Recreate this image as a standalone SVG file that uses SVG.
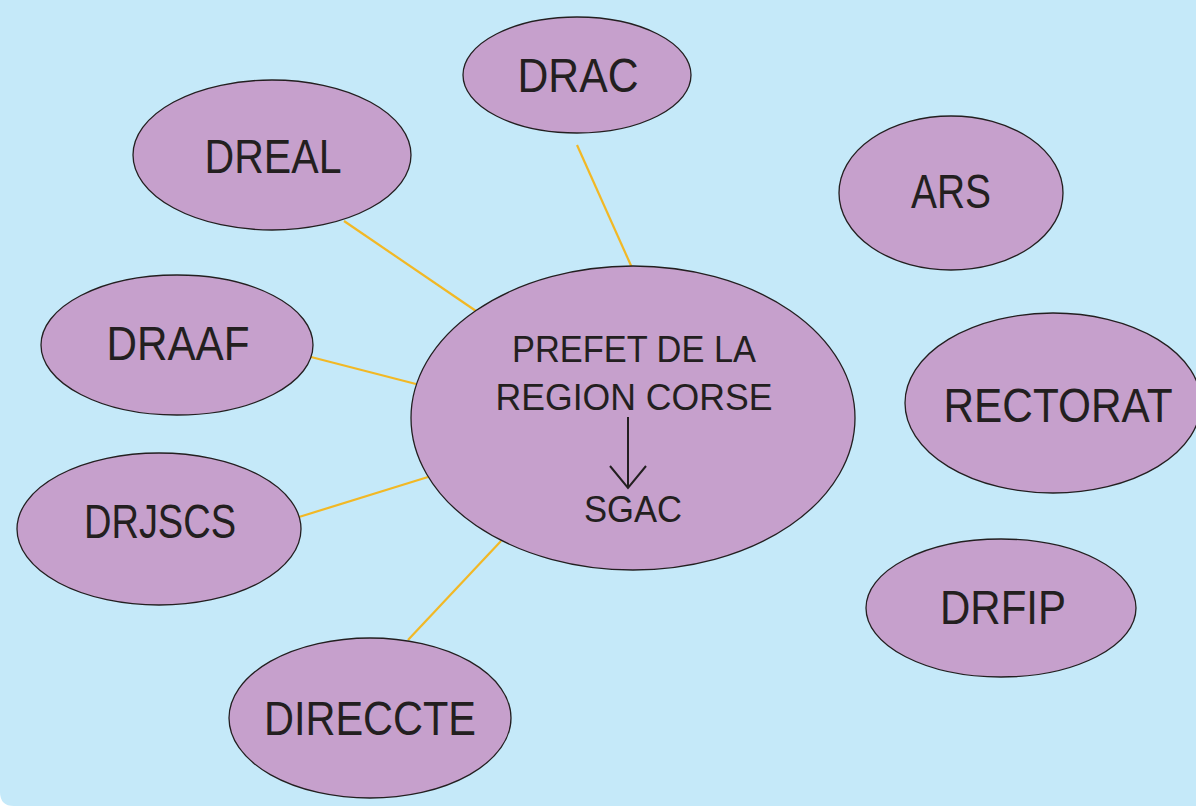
<svg xmlns="http://www.w3.org/2000/svg" width="1196" height="809" viewBox="0 0 1196 809">
<style>
.n{fill:#C6A0CC;stroke:#231F20;stroke-width:1.3}
.t{font-family:"Liberation Sans",Arial,sans-serif;font-size:48px;fill:#231F20;text-anchor:middle}
.c{font-family:"Liberation Sans",Arial,sans-serif;font-size:37px;fill:#231F20;text-anchor:middle}
.e{stroke:#F2B825;stroke-width:2.2;fill:none}
</style>
<rect width="1196" height="809" fill="#FFFFFF"/>
<path d="M0 0 H1196 V806 H14 Q0 806 0 792 Z" fill="#C5E9F9"/>
<g id="connectors">
<line class="e" x1="577" y1="145" x2="633" y2="270"/>
<line class="e" x1="344" y1="221" x2="476" y2="311"/>
<line class="e" x1="311" y1="357" x2="416" y2="384"/>
<line class="e" x1="299" y1="517" x2="428" y2="477"/>
<line class="e" x1="408" y1="640" x2="501" y2="541"/>
</g>
<g id="drac"><ellipse class="n" cx="577" cy="75" rx="114" ry="58"/><text class="t" x="578" y="92" textLength="121" lengthAdjust="spacingAndGlyphs">DRAC</text></g>
<g id="dreal"><ellipse class="n" cx="272" cy="155" rx="139" ry="75"/><text class="t" x="273" y="173" textLength="137" lengthAdjust="spacingAndGlyphs">DREAL</text></g>
<g id="ars"><ellipse class="n" cx="951" cy="193" rx="112" ry="77"/><text class="t" x="951" y="208" textLength="80" lengthAdjust="spacingAndGlyphs">ARS</text></g>
<g id="draaf"><ellipse class="n" cx="177" cy="345" rx="136" ry="70"/><text class="t" x="178" y="360" textLength="143" lengthAdjust="spacingAndGlyphs">DRAAF</text></g>
<g id="prefet"><ellipse class="n" cx="633" cy="418" rx="222" ry="152"/>
<text class="c" x="634" y="362" textLength="244" lengthAdjust="spacingAndGlyphs">PREFET DE LA</text>
<text class="c" x="634" y="410" textLength="277" lengthAdjust="spacingAndGlyphs">REGION CORSE</text>
<line x1="628" y1="417" x2="628" y2="488" stroke="#231F20" stroke-width="2"/>
<polyline points="610,466 628,488 646,466" fill="none" stroke="#231F20" stroke-width="2"/>
<text class="c" x="633" y="522" textLength="98" lengthAdjust="spacingAndGlyphs">SGAC</text></g>
<g id="rectorat"><ellipse class="n" cx="1053" cy="403" rx="148" ry="90"/><text class="t" x="1058" y="422" textLength="229" lengthAdjust="spacingAndGlyphs">RECTORAT</text></g>
<g id="drjscs"><ellipse class="n" cx="159" cy="529" rx="142" ry="76"/><text class="t" x="160" y="538" textLength="152" lengthAdjust="spacingAndGlyphs">DRJSCS</text></g>
<g id="drfip"><ellipse class="n" cx="1001" cy="608" rx="135" ry="69"/><text class="t" x="1003" y="624" textLength="126" lengthAdjust="spacingAndGlyphs">DRFIP</text></g>
<g id="direccte"><ellipse class="n" cx="370" cy="718" rx="141" ry="80"/><text class="t" x="370" y="735" textLength="212" lengthAdjust="spacingAndGlyphs">DIRECCTE</text></g>
</svg>
